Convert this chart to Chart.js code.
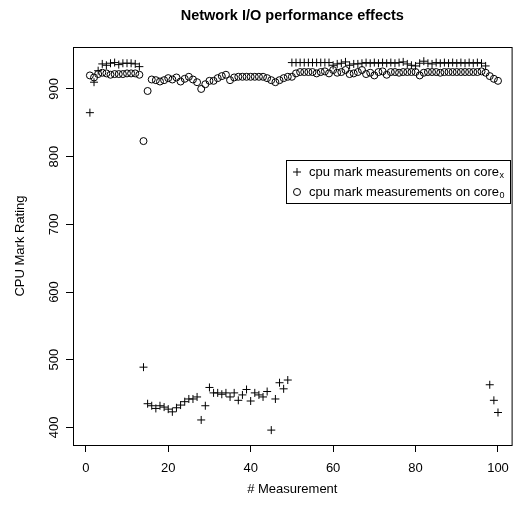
<!DOCTYPE html>
<html>
<head>
<meta charset="utf-8">
<script src="https://cdn.jsdelivr.net/npm/chart.js@4.4.1/dist/chart.umd.min.js"></script>
<style>
  html, body { margin: 0; padding: 0; background: #fff; }
  #wrap { width: 518px; height: 508px; }
</style>
</head>
<body>
<div id="wrap"><canvas id="chart" width="518" height="508"></canvas></div>
<script>
// Valores
const measurement = Array.from({ length: 100 }, (_, i) => i + 1);

const coreX = [
  865, 910, 927, 937, 935, 938, 939, 936, 938, 938,
  938, 937, 933, 489, 435, 432, 428, 432, 430, 427,
  423, 429, 433, 438, 442, 442, 445, 411, 432, 459,
  451, 451, 449, 451, 445, 451, 440, 448, 456, 439,
  451, 448, 445, 453, 396, 442, 466, 457, 470, 939,
  939, 939, 939, 939, 939, 939, 939, 939, 939, 935,
  937, 938, 940, 935, 937, 937, 938, 939, 938, 939,
  938, 939, 938, 939, 938, 939, 940, 937, 935, 934,
  938, 941, 938, 937, 939, 938, 939, 938, 939, 938,
  939, 938, 939, 938, 939, 938, 934, 463, 440, 422
];

const core0 = [
  920, 917, 922, 924, 923, 921, 922, 922, 922, 923,
  923, 923, 921, 823, 897, 914, 913, 911, 913, 916,
  914, 917, 911, 915, 918, 914, 910, 900, 907, 912,
  912, 916, 919, 921, 913, 917, 918, 918, 918, 918,
  918, 918, 918, 916, 913, 910, 913, 916, 918, 918,
  923, 925, 925, 925, 925, 923, 925, 926, 923, 928,
  924, 925, 928, 922, 923, 925, 928, 922, 924, 920,
  925, 926, 921, 925, 925, 924, 925, 925, 925, 925,
  920, 924, 925, 925, 925, 924, 925, 925, 925, 925,
  925, 925, 925, 925, 925, 926, 924, 919, 915, 912
];

const xTicks = [0, 20, 40, 60, 80, 100];
const yTicks = [400, 500, 600, 700, 800, 900];

const TITLE = 'Network I/O performance effects';
const LEGEND_TEXT = 'cpu mark measurements on core';
const FONT = '"Liberation Sans", Arial, Helvetica, sans-serif';

// Moldura estilo R: caixa, título e legenda
const rFrame = {
  id: 'rFrame',
  afterDraw(chart) {
    const { ctx, chartArea: a } = chart;
    ctx.save();
    ctx.strokeStyle = '#000';
    ctx.lineWidth = 1;
    ctx.strokeRect(a.left + 0.5, a.top + 0.5, a.right - a.left, a.bottom - a.top);

    ctx.fillStyle = '#000';
    ctx.font = 'bold 14.5px ' + FONT;
    ctx.textAlign = 'center';
    ctx.textBaseline = 'middle';
    ctx.fillText(TITLE, (a.left + a.right) / 2, 16);

    // legenda
    const lx = 286.5, ly = 160.5, lw = 224, lh = 43;
    ctx.strokeRect(lx, ly, lw, lh);
    const rows = [
      { sym: 'cross', sub: 'x', y: 172 },
      { sym: 'circle', sub: '0', y: 192 }
    ];
    rows.forEach(r => {
      const sx = 297;
      ctx.beginPath();
      if (r.sym === 'cross') {
        ctx.moveTo(sx - 4, r.y); ctx.lineTo(sx + 4, r.y);
        ctx.moveTo(sx, r.y - 4); ctx.lineTo(sx, r.y + 4);
      } else {
        ctx.arc(sx, r.y, 3.5, 0, Math.PI * 2);
      }
      ctx.stroke();
      ctx.font = '13px ' + FONT;
      ctx.textAlign = 'left';
      ctx.textBaseline = 'middle';
      ctx.fillText(LEGEND_TEXT, 309, r.y);
      const w = ctx.measureText(LEGEND_TEXT).width;
      ctx.font = '9px ' + FONT;
      ctx.fillText(r.sub, 309 + w + 0.5, r.y + 4);
    });
    ctx.restore();
  }
};

const ctx = document.getElementById('chart').getContext('2d');
new Chart(ctx, {
  type: 'scatter',
  data: {
    datasets: [
      {
        label: 'cpu mark measurements on core x',
        data: measurement.map((m, i) => ({ x: m, y: coreX[i] })),
        pointStyle: 'cross',
        radius: 4,
        borderColor: '#000',
        borderWidth: 1
      },
      {
        label: 'cpu mark measurements on core 0',
        data: measurement.map((m, i) => ({ x: m, y: core0[i] })),
        pointStyle: 'circle',
        radius: 3.5,
        borderColor: '#000',
        backgroundColor: 'rgba(0,0,0,0)',
        borderWidth: 1
      }
    ]
  },
  options: {
    responsive: false,
    animation: false,
    layout: { padding: { left: 0, right: 3, top: 47, bottom: 0 } },
    plugins: {
      legend: { display: false },
      tooltip: { enabled: false },
      title: { display: false }
    },
    scales: {
      x: {
        type: 'linear',
        min: -3.1,
        max: 103.3,
        afterBuildTicks: s => { s.ticks = xTicks.map(v => ({ value: v })); },
        afterFit: s => { s.height = 63; },
        border: { display: false },
        grid: { drawOnChartArea: false, drawTicks: true, tickLength: 7, color: '#000' },
        ticks: { padding: 9, color: '#000', maxRotation: 0, autoSkip: false, font: { size: 13, family: FONT } },
        title: { display: true, text: '# Measurement', color: '#000', font: { size: 13, family: FONT }, padding: { top: 0, bottom: 11 } }
      },
      y: {
        type: 'linear',
        min: 374,
        max: 962,
        afterBuildTicks: s => { s.ticks = yTicks.map(v => ({ value: v })); },
        afterFit: s => { s.width = 73; },
        border: { display: false },
        grid: { drawOnChartArea: false, drawTicks: true, tickLength: 7, color: '#000' },
        ticks: { padding: 1, color: '#000', minRotation: 90, maxRotation: 90, crossAlign: 'center', autoSkip: false, font: { size: 13, family: FONT } },
        title: { display: true, text: 'CPU Mark Rating', color: '#000', font: { size: 13, family: FONT }, padding: { top: 13, bottom: 0 } }
      }
    }
  },
  plugins: [rFrame]
});
</script>
</body>
</html>
